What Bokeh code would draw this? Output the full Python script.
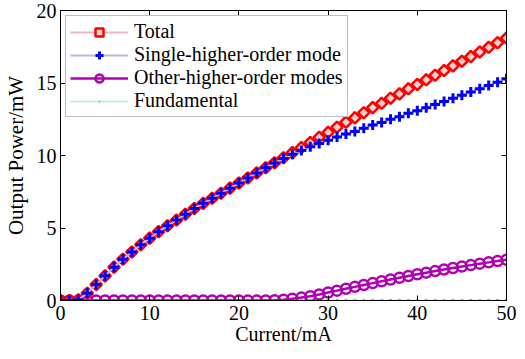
import math
from bokeh.plotting import figure
from bokeh.models import Legend, LegendItem, LinearAxis, FixedTicker, Range1d
from bokeh.embed import file_html
from bokeh.resources import INLINE

current = list(range(0, 51))

total = [0.0, 0.0, 0.05, 0.5, 1.1, 1.7, 2.3, 2.85, 3.35, 3.85,
         4.3, 4.75, 5.15, 5.55, 5.95, 6.35, 6.7, 7.05, 7.4, 7.75,
         8.1, 8.45, 8.8, 9.15, 9.5, 9.85, 10.2, 10.55, 10.9, 11.25,
         11.6, 11.95, 12.3, 12.6, 12.95, 13.3, 13.6, 13.95, 14.25, 14.6,
         14.9, 15.22, 15.54, 15.86, 16.18, 16.5, 16.82, 17.14, 17.46, 17.78,
         18.1]

single = [0.0, 0.0, 0.05, 0.5, 1.1, 1.7, 2.3, 2.85, 3.35, 3.85,
          4.3, 4.75, 5.15, 5.55, 5.95, 6.35, 6.7, 7.05, 7.4, 7.75,
          8.1, 8.45, 8.8, 9.15, 9.48, 9.79, 10.08, 10.35, 10.6, 10.83,
          11.05, 11.27, 11.49, 11.66, 11.88, 12.1, 12.27, 12.5, 12.68, 12.91,
          13.09, 13.3, 13.51, 13.72, 13.94, 14.16, 14.38, 14.6, 14.83, 15.06,
          15.29]

other = [0.0] * 24 + [0.02, 0.06, 0.12, 0.2, 0.3, 0.42,
                      0.55, 0.68, 0.81, 0.94, 1.07, 1.2, 1.33, 1.45, 1.57, 1.69,
                      1.81, 1.92, 2.03, 2.14, 2.24, 2.34, 2.44, 2.54, 2.63, 2.72,
                      2.81]

fundamental = [0.0] * 51

x_ticks = [0, 10, 20, 30, 40, 50]
y_ticks = [0, 5, 10, 15, 20]

FONT = "Liberation Serif"
FS = "20px"

p = figure(width=517, height=351, output_backend="svg", toolbar_location=None,
           x_range=Range1d(0, 50), y_range=Range1d(0, 20),
           min_border_left=55, min_border_right=11, min_border_top=10, min_border_bottom=51)
p.xgrid.visible = False
p.ygrid.visible = False
p.outline_line_color = "black"
p.outline_line_width = 1
p.background_fill_color = "white"
p.border_fill_color = "white"

def style_axis(ax, ticks, labels=True):
    ax.ticker = FixedTicker(ticks=ticks)
    ax.major_tick_in = 5
    ax.major_tick_out = 0
    ax.minor_tick_line_color = None
    ax.axis_line_color = "black"
    ax.major_tick_line_color = "black"
    ax.major_label_text_font = FONT
    ax.major_label_text_color = "black"
    if labels:
        ax.major_label_text_font_size = FS
    else:
        ax.major_label_overrides = {t: "" for t in ticks}
        ax.major_label_text_font_size = "1px"
        ax.major_label_standoff = 0

style_axis(p.xaxis[0], x_ticks)
style_axis(p.yaxis[0], y_ticks)
p.xaxis[0].axis_label = "Current/mA"
p.yaxis[0].axis_label = "Output Power/mW"
for ax in (p.xaxis[0], p.yaxis[0]):
    ax.axis_label_text_font = FONT
    ax.axis_label_text_font_style = "normal"
    ax.axis_label_text_color = "black"
p.xaxis[0].axis_label_text_font_size = "20px"
p.yaxis[0].axis_label_text_font_size = "21px"
p.xaxis[0].major_label_standoff = 5
p.xaxis[0].axis_label_standoff = 0
p.yaxis[0].major_label_standoff = 4
p.yaxis[0].axis_label_standoff = 6

top_ax = LinearAxis()
style_axis(top_ax, x_ticks, labels=False)
p.add_layout(top_ax, "above")
right_ax = LinearAxis()
style_axis(right_ax, y_ticks, labels=False)
p.add_layout(right_ax, "right")

# Fundamental
lf = p.line(current, fundamental, line_color="#a8ecec", line_width=1.5)
sf = p.scatter(current, fundamental, marker="dot", size=14,
               line_color="#30d0d0", fill_color="#30d0d0")

# Other-higher-order modes
lo = p.line(current, other, line_color="#b000b0", line_width=2.5)
so = p.scatter(current, other, marker="circle", size=10,
               line_color="#b000b0", line_width=2.5, fill_color=None)

# Total
lt = p.line(current, total, line_color="#f0b8c0", line_width=2)
st = p.scatter(current, total, marker="square", angle=math.pi / 4, size=8,
               line_color="#ff0000", line_width=2.5, fill_color="#f8d0d0")

# Single-higher-order mode
ls = p.line(current, single, line_color="#b8bcd8", line_width=2)
ss = p.scatter(current, single, marker="cross", size=10,
               line_color="#0000ff", line_width=3)

legend = Legend(
    items=[
        LegendItem(label="Total", renderers=[lt, st]),
        LegendItem(label="Single-higher-order mode", renderers=[ls, ss]),
        LegendItem(label="Other-higher-order modes", renderers=[lo, so]),
        LegendItem(label="Fundamental", renderers=[lf, sf]),
    ],
    location="top_left",
    margin=5,
    padding=4,
    spacing=-4,
    glyph_width=58,
    label_standoff=6,
    label_text_font=FONT,
    label_text_font_size=FS,
    label_text_color="black",
    border_line_color="#808080",
    border_line_width=1,
    background_fill_color="white",
    background_fill_alpha=1,
)
p.add_layout(legend, "center")

open("out.html", "w").write(file_html(p, INLINE))
